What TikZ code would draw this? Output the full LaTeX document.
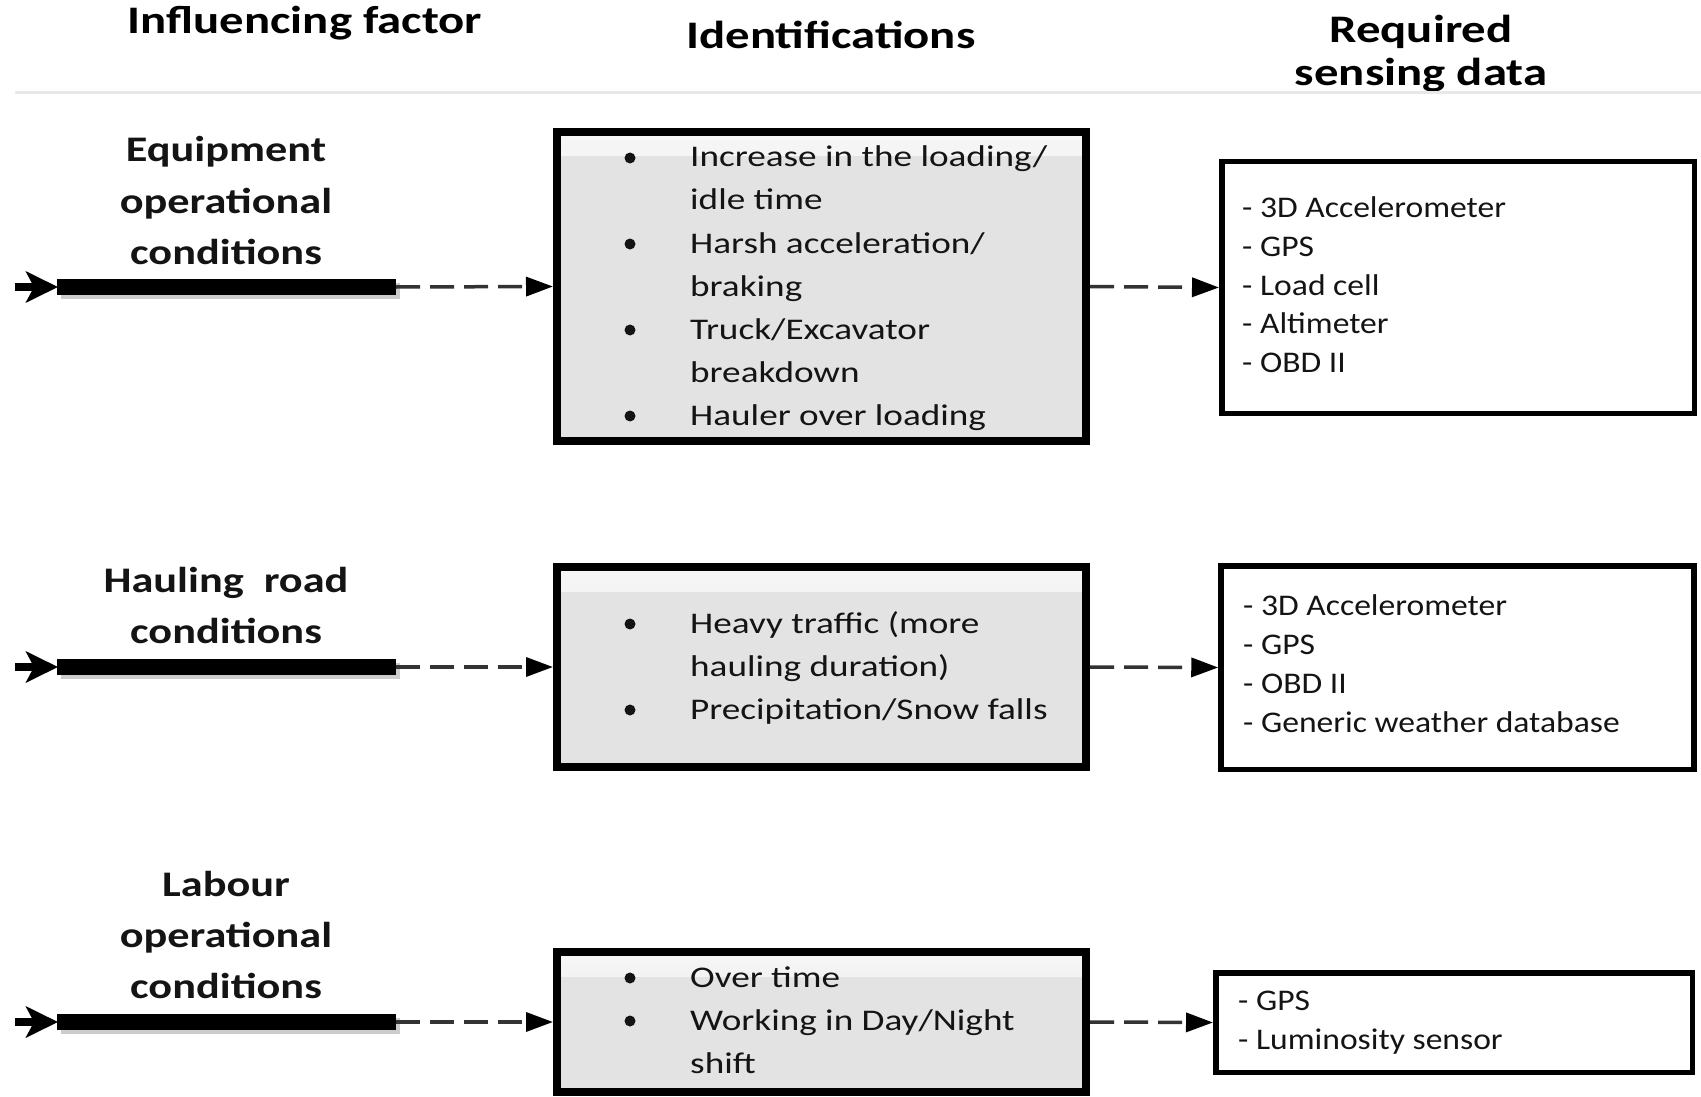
\documentclass[tikz,border=0pt]{standalone}
\usepackage{fontspec}
\setmainfont{Carlito}
\newfontfamily\idfont{Carlito}[FakeStretch=1.24]
\newfontfamily\snfont{Carlito}[FakeStretch=1.12]
\newfontfamily\lbfont{Carlito}[FakeStretch=1.23]
\newfontfamily\hdfont{Carlito}[FakeStretch=1.25]
\usetikzlibrary{arrows.meta,shadows}
\definecolor{boxgray}{HTML}{E3E3E3}
\definecolor{boxtop}{HTML}{F6F6F6}
\definecolor{txt}{HTML}{141414}
\begin{document}
\begin{tikzpicture}[x=1pt,y=-1pt,
  idbox/.style={draw=black, line width=8pt, fill=boxgray, inner sep=0pt,
    minimum width=529pt,
    drop shadow={shadow xshift=4pt, shadow yshift=-4pt, fill=black!30, opacity=0.6},
    path picture={\shade[top color=boxtop, bottom color=boxgray]
      (path picture bounding box.north west) rectangle
      ([yshift=-24pt]path picture bounding box.north east);}},
  snbox/.style={draw=black, line width=5.5pt, fill=white, inner sep=0pt},
  idtxt/.style={anchor=base west, inner sep=0pt, text=txt, font=\idfont\fontsize{30}{36}\selectfont},
  sntxt/.style={anchor=base west, inner sep=0pt, text=txt, font=\snfont\fontsize{30}{36}\selectfont},
  lbl/.style={anchor=base, inner sep=0pt, text=txt, font=\lbfont\bfseries\fontsize{36}{42}\selectfont},
  hdr/.style={anchor=base, inner sep=0pt, text=black, font=\hdfont\bfseries\fontsize{39}{46}\selectfont},
  bar/.style={line width=16pt},
  barshadow/.style={line width=16pt, black!20},
  stub/.style={line width=8pt, -{Stealth[length=32pt, width=31pt, inset=8pt]}},
  dasharrow/.style={line width=3.5pt, black!80, dash pattern=on 24pt off 10pt,
    -{Triangle[length=27pt, width=19pt, fill=black, color=black]}},
  bulletdot/.style={fill=txt}
]
\useasboundingbox (0,0) rectangle (1701,1097);

% header
\node[hdr] (h1) at (305,34) {Influencing factor};
\node[hdr] (h2) at (831,49) {Identifications};
\node[hdr] (h3a) at (1421,43) {Required};
\node[hdr] (h3b) at (1421,86) {sensing data};
\coordinate (hl1) at (15,93);
\coordinate (hl2) at (1701,93);
\draw[line width=3pt, black!9] (hl1) -- (hl2);

% boxes
\node[idbox, minimum height=309pt] (id1) at (821.5,286.5) {};
\node[idbox, minimum height=200pt] (id2) at (821.5,667) {};
\node[idbox, minimum height=140pt] (id3) at (821.5,1022) {};
\node[snbox, minimum width=472.5pt, minimum height=251.5pt] (s1) at (1458,287.5) {};
\node[snbox, minimum width=473pt, minimum height=203.5pt] (s2) at (1457.5,667.5) {};
\node[snbox, minimum width=476.5pt, minimum height=99.5pt] (s3) at (1454,1022.5) {};

% factor labels
\node[lbl] (f1a) at (226,162) {Equipment};
\node[lbl] (f1b) at (226,213) {operational};
\node[lbl] (f1c) at (226,264) {conditions};
\node[lbl] (f2a) at (226,592) {Hauling\ \ road};
\node[lbl] (f2b) at (226,643) {conditions};
\node[lbl] (f3a) at (226,896) {Labour};
\node[lbl] (f3b) at (226,947) {operational};
\node[lbl] (f3c) at (226,998) {conditions};

% connectors
\coordinate (t1) at (15,287);   \coordinate (bs1) at (57,287);  \coordinate (be1) at (396,287);
\coordinate (t2) at (15,667);   \coordinate (bs2) at (57,667);  \coordinate (be2) at (396,667);
\coordinate (t3) at (15,1022);  \coordinate (bs3) at (57,1022); \coordinate (be3) at (396,1022);
\foreach \r in {1,2,3}{
  \draw[barshadow] ([xshift=4pt,yshift=-4pt]bs\r) -- ([xshift=4pt,yshift=-4pt]be\r);
  \draw[bar] (bs\r) -- (be\r);
  \draw[stub] (t\r) -- ([xshift=1pt]bs\r);
  \draw[dasharrow] (be\r) -- (id\r.west);
  \draw[dasharrow] (id\r.east) -- (s\r.west);
}

% identification texts
\foreach \t [count=\i from 0] in {Increase in the loading/, idle time, Harsh acceleration/, braking, Truck/Excavator, breakdown, Hauler over loading}
  \node[idtxt] (a\i) at (690,{167+43*\i}) {\t};
\foreach \i in {0,2,4,6}
  \fill[bulletdot] (630,{158+43*\i}) circle (5.5pt);

\foreach \t [count=\i from 0] in {Heavy traffic (more, hauling duration), Precipitation/Snow falls}
  \node[idtxt] (b\i) at (690,{633+43*\i}) {\t};
\foreach \i in {0,2}
  \fill[bulletdot] (630,{624+43*\i}) circle (5.5pt);

\foreach \t [count=\i from 0] in {Over time, Working in Day/Night, shift}
  \node[idtxt] (c\i) at (690,{987+43*\i}) {\t};
\foreach \i in {0,1}
  \fill[bulletdot] (630,{978+43*\i}) circle (5.5pt);

% sensing texts
\foreach \t [count=\i from 0] in {- 3D Accelerometer, - GPS, - Load cell, - Altimeter, - OBD II}
  \node[sntxt] (d\i) at (1242,{218+38.6*\i}) {\t};
\foreach \t [count=\i from 0] in {- 3D Accelerometer, - GPS, - OBD II, - Generic weather database}
  \node[sntxt] (e\i) at (1243,{615+39*\i}) {\t};
\foreach \t [count=\i from 0] in {- GPS, - Luminosity sensor}
  \node[sntxt] (g\i) at (1238,{1010+39*\i}) {\t};
\end{tikzpicture}
\end{document}
